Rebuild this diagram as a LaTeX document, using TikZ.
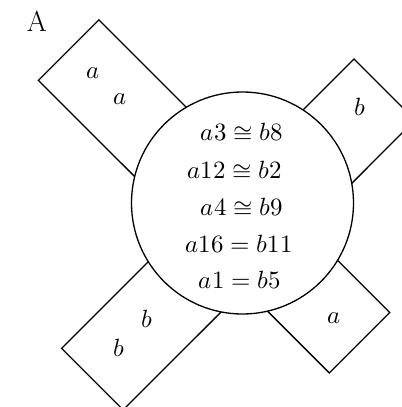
\documentclass[tikz,border=0pt]{standalone}
\usepackage{unicode-math}
\begin{document}
\begin{tikzpicture}[x=1bp,y=-1bp,
  outline/.style={line width=1.3bp, line join=miter},
  eqtext/.style={inner sep=0pt, anchor=base, font=\fontsize{25}{28}\selectfont},
  lettertext/.style={inner sep=0pt, font=\fontsize{25}{28}\selectfont},
  biglabel/.style={inner sep=0pt, font=\fontsize{29}{34}\selectfont}]
\useasboundingbox (0,0) rectangle (402,407);
\clip (0,0) rectangle (402,407);

% central circle
\node[draw, circle, outline, minimum size=222bp, inner sep=0pt] (C) at (242.5,203) {};

% arm corner points (outer) and points on circle (inner)
\coordinate (tlA) at (186.3,107.3);
\coordinate (tlB) at (98.9,19.9);
\coordinate (tlC) at (38.4,80.4);
\coordinate (tlD) at (134.7,176.6);

\coordinate (trA) at (303.0,110.0);
\coordinate (trB) at (354.0,59.0);
\coordinate (trC) at (415.0,120.0);
\coordinate (trD) at (351.8,183.3);

\coordinate (blA) at (148.3,261.7);
\coordinate (blB) at (61.6,348.4);
\coordinate (blC) at (123.1,409.9);
\coordinate (blD) at (221.2,311.9);

\coordinate (brA) at (337.5,260.3);
\coordinate (brB) at (389.7,312.5);
\coordinate (brC) at (329.3,372.9);
\coordinate (brD) at (267.5,311.1);

\draw[outline] (tlA) -- (tlB) -- (tlC) -- (tlD);
\draw[outline] (trA) -- (trB) -- (trC) -- (trD);
\draw[outline] (blA) -- (blB) -- (blC) -- (blD);
\draw[outline] (brA) -- (brB) -- (brC) -- (brD);

% label
\node[biglabel] (lab) at (37,21.7) {A};

% letters in arms
\node[lettertext] (tl1) at (93.3,72.7) {$a$};
\node[lettertext] (tl2) at (120,99.3) {$a$};
\node[lettertext] (tr1) at (360,106.7) {$b$};
\node[lettertext] (bl1) at (147.3,319.3) {$b$};
\node[lettertext] (bl2) at (119.3,348.3) {$b$};
\node[lettertext] (br1) at (334,318.3) {$a$};

% relations inside circle
\node[eqtext] (r1) at (242,140) {$a3 \cong b8$};
\node[eqtext] (r2) at (235,178) {$a12 \cong b2$};
\node[eqtext] (r3) at (242,215) {$a4 \cong b9$};
\node[eqtext] (r4) at (239,252.7) {$a16 = b11$};
\node[eqtext] (r5) at (240,288.3) {$a1 = b5$};
\end{tikzpicture}
\end{document}
